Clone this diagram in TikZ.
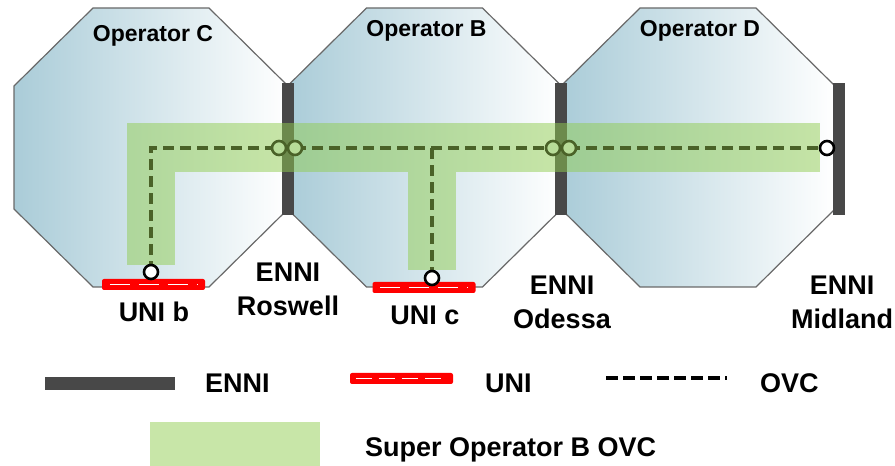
\documentclass[tikz,border=0pt]{standalone}
\usepackage{fontspec}
\setmainfont{Liberation Sans}
\usepackage{xcolor}
\usepackage{tikz}
\usetikzlibrary{calc}

\definecolor{octblue}{RGB}{170,204,216}
\definecolor{octedge}{RGB}{105,105,105}
\definecolor{ennigray}{RGB}{72,72,72}
\definecolor{ovcgreen}{RGB}{145,205,81}
\definecolor{ovcline}{RGB}{74,98,40}
\definecolor{epgreen}{RGB}{183,220,152}
\definecolor{legendgreen}{RGB}{200,230,168}

\begin{document}
\begin{tikzpicture}[x=1bp, y=-1bp,
    lbl/.style={font=\bfseries\fontsize{27bp}{34bp}\selectfont, align=center, inner sep=0pt},
    oplbl/.style={font=\bfseries\fontsize{23bp}{27bp}\selectfont, inner sep=0pt, anchor=base},
    enni/.style={rectangle, fill=ennigray, inner sep=0pt, minimum width=12bp, minimum height=132bp},
    band/.style={fill=ovcgreen, fill opacity=0.5},
    ovc/.style={ovcline, line width=3.6bp, dash pattern=on 11bp off 6bp},
    ep/.style={circle, draw=ovcline, line width=2.6bp, fill=epgreen, minimum size=14bp, inner sep=0pt},
    uep/.style={circle, draw=black, line width=2.6bp, fill=white, minimum size=14bp, inner sep=0pt},
    uni/.style={rectangle, rounded corners=2bp, fill=red, minimum width=103bp, minimum height=11bp, inner sep=0pt},
    unidash/.style={white, line width=1.5bp, dash pattern=on 20bp off 9bp}]
    \useasboundingbox (0,0) rectangle (895,466);

    % operator domains
    \foreach \cx/\op/\bl in {151/C/42, 424.5/B/37, 698/D/37} {
        \shadedraw[left color=octblue, right color=white, draw=octedge, line width=1.2bp]
            ({\cx-137},86) -- ({\cx-58},8) -- ({\cx+58},8) -- ({\cx+137},86)
            -- ({\cx+137},209) -- ({\cx+58},287) -- ({\cx-58},287) -- ({\cx-137},209) -- cycle;
        \node[oplbl] (op\op) at ({\cx+2},\bl) {Operator \op};
    }

    % ENNIs
    \node[enni] (enniR) at (288,149) {};
    \node[enni] (enniO) at (561,149) {};
    \node[enni] (enniM) at (838.5,149) {};

    % super operator OVC
    \fill[band] (127,123) rectangle (820,172);
    \fill[band] (127,172) rectangle (175,265);
    \fill[band] (408,172) rectangle (456,270);

    % OVC end points
    \coordinate (pb) at (151,272);
    \coordinate (pc) at (432,278);
    \coordinate (rosL) at (279,148);
    \coordinate (rosR) at (295,148);
    \coordinate (odeL) at (553,148);
    \coordinate (odeR) at (569,148);
    \coordinate (mid) at (827,148);

    \draw[ovc] (pb) |- (rosL);
    \draw[ovc] (rosR) -- (odeL);
    \draw[ovc] (odeR) -- (mid);
    \draw[ovc] (pc) -- (pc |- rosR);

    % UNIs
    \node[uni] (unib) at (153.5,284.5) {};
    \draw[unidash] ($(unib.west)+(8,0)$) -- ($(unib.east)+(-8,0)$);
    \node[uni] (unic) at (424,287.5) {};
    \draw[unidash] ($(unic.west)+(8,0)$) -- ($(unic.east)+(-8,0)$);

    \node[uep] (pbdot) at (pb) {};
    \node[uep] (pcdot) at (pc) {};
    \node[ep] (rosLdot) at (rosL) {};
    \node[ep] (rosRdot) at (rosR) {};
    \node[ep] (odeLdot) at (odeL) {};
    \node[ep] (odeRdot) at (odeR) {};
    \node[uep] (middot) at (mid) {};

    % labels
    \node[lbl] (lblUb) at (154,312) {UNI b};
    \node[lbl] (lblUc) at (425,315) {UNI c};
    \node[lbl] (lblR) at (288,289) {ENNI\\Roswell};
    \node[lbl] (lblO) at (562,302) {ENNI\\Odessa};
    \node[lbl] (lblM) at (842,302) {ENNI\\Midland};

    % legend
    \node[enni, minimum width=130bp, minimum height=13bp] (legEnni) at (110,383.5) {};
    \node[lbl, anchor=base west] (legEnniT) at (205,392) {ENNI};
    \node[uni] (legUni) at (401.5,378.5) {};
    \draw[unidash, dash pattern=on 16bp off 7bp] ($(legUni.west)+(6,0)$) -- ($(legUni.east)+(-6,0)$);
    \node[lbl, anchor=base west] (legUniT) at (485,392) {UNI};
    \coordinate (legOvcA) at (606,378);
    \coordinate (legOvcB) at (727,378);
    \draw[black, line width=4.5bp, dash pattern=on 12bp off 5bp] (legOvcA) -- (legOvcB);
    \node[lbl, anchor=base west] (legOvcT) at (760,392) {OVC};
    \node[fill=legendgreen, minimum width=170bp, minimum height=44bp, inner sep=0pt] (legBand) at (235,444) {};
    \node[lbl, anchor=base west] (legBandT) at (365,456) {Super Operator B OVC};
\end{tikzpicture}
\end{document}
